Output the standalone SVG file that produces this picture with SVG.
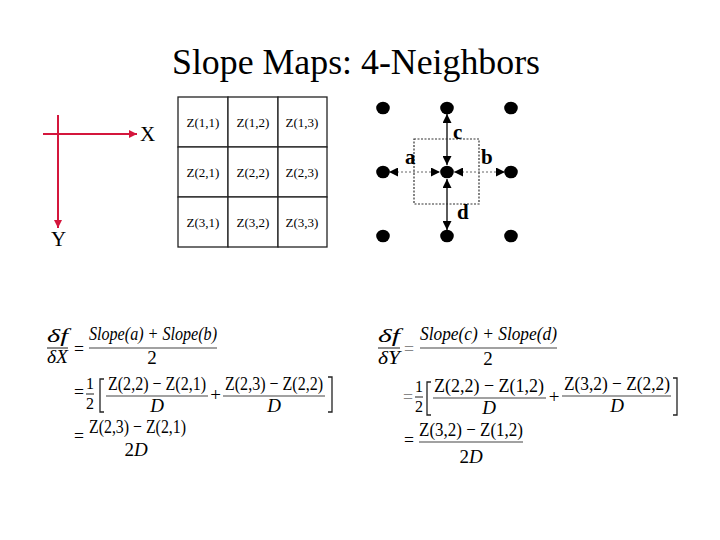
<svg xmlns="http://www.w3.org/2000/svg" width="720" height="540" viewBox="0 0 720 540">
<defs>
<style>
.serif{font-family:"Liberation Serif","Times New Roman",serif;fill:#000}
.title{font-size:36px}
.cell rect{fill:#fff;stroke:#222;stroke-width:1.3}
.cell text{font-size:13px;text-anchor:middle}
.axis{stroke:#d4163c;stroke-width:2;fill:none}
.axlbl{font-size:21px}
.dot{fill:#000}
.lbl{font-size:21px;font-weight:bold}
.solid{stroke:#333;stroke-width:1.6;fill:none}
.dotted{stroke:#666;stroke-width:1;stroke-dasharray:2,2;fill:none}
.box{stroke:#333;stroke-width:1.2;stroke-dasharray:2,1.5;fill:none}
.f{font-size:19px}
.it{font-style:italic}
.mid{text-anchor:middle}
.frac{stroke:#444;stroke-width:1.2}
.brk{stroke:#222;stroke-width:1.3;fill:none}
.gray{fill:#888}
.half{font-size:16px}
</style>
<marker id="redArrow" viewBox="0 0 8 8" refX="8" refY="4" markerWidth="8" markerHeight="8" markerUnits="userSpaceOnUse" orient="auto">
<path d="M0,0 L8,4 L0,8 z" fill="#d4163c"/>
</marker>
<marker id="tri" viewBox="0 0 9 9" refX="9" refY="4.5" markerWidth="9" markerHeight="9" markerUnits="userSpaceOnUse" orient="auto-start-reverse">
<path d="M0,0 L9,4.5 L0,9 z" fill="#000"/>
</marker>
</defs>
<rect width="720" height="540" fill="#fff"/>

<text class="serif title" x="172" y="74" textLength="368" lengthAdjust="spacingAndGlyphs">Slope Maps: 4-Neighbors</text>

<g id="axes">
<line class="axis" x1="43" y1="134" x2="137" y2="134" marker-end="url(#redArrow)"/>
<line class="axis" x1="58" y1="115" x2="58" y2="228" marker-end="url(#redArrow)"/>
<text class="serif axlbl" x="140" y="141">X</text>
<text class="serif axlbl" x="51" y="246">Y</text>
</g>

<g id="grid" class="serif">
<g id="z11" class="cell"><rect x="178" y="97" width="50" height="50"/><text x="203" y="127">Z(1,1)</text></g>
<g id="z12" class="cell"><rect x="228" y="97" width="50" height="50"/><text x="253" y="127">Z(1,2)</text></g>
<g id="z13" class="cell"><rect x="278" y="97" width="49" height="50"/><text x="302" y="127">Z(1,3)</text></g>
<g id="z21" class="cell"><rect x="178" y="147" width="50" height="50"/><text x="203" y="177">Z(2,1)</text></g>
<g id="z22" class="cell"><rect x="228" y="147" width="50" height="50"/><text x="253" y="177">Z(2,2)</text></g>
<g id="z23" class="cell"><rect x="278" y="147" width="49" height="50"/><text x="302" y="177">Z(2,3)</text></g>
<g id="z31" class="cell"><rect x="178" y="197" width="50" height="50"/><text x="203" y="227">Z(3,1)</text></g>
<g id="z32" class="cell"><rect x="228" y="197" width="50" height="50"/><text x="253" y="227">Z(3,2)</text></g>
<g id="z33" class="cell"><rect x="278" y="197" width="49" height="50"/><text x="302" y="227">Z(3,3)</text></g>
</g>

<g id="window">
<rect class="box" x="414" y="139" width="65" height="65"/>
</g>

<g id="connectors">
<line class="solid" x1="447" y1="114" x2="447" y2="165" marker-start="url(#tri)" marker-end="url(#tri)"/>
<line class="solid" x1="447" y1="179" x2="447" y2="230" marker-start="url(#tri)" marker-end="url(#tri)"/>
<line class="dotted" x1="389" y1="172" x2="440" y2="172" marker-start="url(#tri)" marker-end="url(#tri)"/>
<line class="dotted" x1="454" y1="172" x2="505" y2="172" marker-start="url(#tri)" marker-end="url(#tri)"/>
</g>

<g id="dots">
<g id="n11"><ellipse class="dot" cx="383" cy="108" rx="6.8" ry="6.3"/></g>
<g id="n12"><ellipse class="dot" cx="447" cy="108" rx="6.8" ry="6.3"/></g>
<g id="n13"><ellipse class="dot" cx="511" cy="108" rx="6.8" ry="6.3"/></g>
<g id="n21"><ellipse class="dot" cx="383" cy="172" rx="6.8" ry="6.3"/></g>
<g id="n22"><ellipse class="dot" cx="447" cy="172" rx="6.8" ry="6.3"/></g>
<g id="n23"><ellipse class="dot" cx="511" cy="172" rx="6.8" ry="6.3"/></g>
<g id="n31"><ellipse class="dot" cx="383" cy="236" rx="6.8" ry="6.3"/></g>
<g id="n32"><ellipse class="dot" cx="447" cy="236" rx="6.8" ry="6.3"/></g>
<g id="n33"><ellipse class="dot" cx="511" cy="236" rx="6.8" ry="6.3"/></g>
</g>

<g id="labels" class="serif lbl">
<text x="453" y="139">c</text>
<text x="405" y="164">a</text>
<text x="481" y="164">b</text>
<text x="457" y="219">d</text>
</g>

<g id="formulaX" class="serif f">
<text class="it" x="47" y="342" textLength="21" lengthAdjust="spacingAndGlyphs">δf</text>
<line class="frac" x1="47" y1="348" x2="68" y2="348"/>
<text class="it" x="47" y="363" textLength="21" lengthAdjust="spacingAndGlyphs">δX</text>
<text x="74" y="355" textLength="10" lengthAdjust="spacingAndGlyphs">=</text>
<text class="it" x="89" y="340" textLength="128" lengthAdjust="spacingAndGlyphs">Slope(a) + Slope(b)</text>
<line class="frac" x1="89" y1="348" x2="217" y2="348"/>
<text class="mid" x="152" y="364">2</text>

<text x="74" y="398" textLength="10" lengthAdjust="spacingAndGlyphs">=</text>
<text class="mid half" x="90" y="389">1</text>
<line class="frac" x1="86" y1="394" x2="94" y2="394"/>
<text class="mid half" x="90" y="409">2</text>
<path class="brk" d="M104,379 L100,379 L100,412 L104,412"/>
<text x="108" y="390" textLength="98" lengthAdjust="spacingAndGlyphs">Z(2,2) − Z(2,1)</text>
<line class="frac" x1="106" y1="396" x2="208" y2="396"/>
<text class="it mid" x="157" y="412">D</text>
<text class="mid" x="215.5" y="401">+</text>
<text x="225" y="390" textLength="98" lengthAdjust="spacingAndGlyphs">Z(2,3) − Z(2,2)</text>
<line class="frac" x1="223" y1="396" x2="325" y2="396"/>
<text class="it mid" x="274" y="412">D</text>
<path class="brk" d="M328,377 L332,377 L332,412 L328,412"/>

<text x="74" y="442" textLength="10" lengthAdjust="spacingAndGlyphs">=</text>
<text x="89" y="433" textLength="97" lengthAdjust="spacingAndGlyphs">Z(2,3) − Z(2,1)</text>
<text class="mid" x="136" y="456"><tspan>2</tspan><tspan class="it">D</tspan></text>
</g>

<g id="formulaY" class="serif f">
<text class="it" x="378" y="342" textLength="22" lengthAdjust="spacingAndGlyphs">δf</text>
<line class="frac" x1="378" y1="348" x2="400" y2="348"/>
<text class="it" x="378" y="364" textLength="22" lengthAdjust="spacingAndGlyphs">δY</text>
<text class="gray" x="404" y="355" textLength="10" lengthAdjust="spacingAndGlyphs">=</text>
<text class="it" x="420" y="340" textLength="137" lengthAdjust="spacingAndGlyphs">Slope(c) + Slope(d)</text>
<line class="frac" x1="420" y1="348" x2="557" y2="348"/>
<text class="mid" x="488" y="365">2</text>

<text class="gray" x="403" y="403" textLength="10" lengthAdjust="spacingAndGlyphs">=</text>
<text class="mid half" x="419" y="392">1</text>
<line class="frac" x1="415" y1="397" x2="423" y2="397"/>
<text class="mid half" x="419" y="412">2</text>
<path class="brk" d="M431,382 L427,382 L427,415 L431,415"/>
<text x="434" y="392" textLength="110" lengthAdjust="spacingAndGlyphs">Z(2,2) − Z(1,2)</text>
<line class="frac" x1="433" y1="398" x2="546" y2="398"/>
<text class="it mid" x="489" y="414">D</text>
<text class="mid" x="554" y="403">+</text>
<text x="564" y="390" textLength="106" lengthAdjust="spacingAndGlyphs">Z(3,2) − Z(2,2)</text>
<line class="frac" x1="562" y1="396" x2="671" y2="396"/>
<text class="it mid" x="617" y="412">D</text>
<path class="brk" d="M673,378 L677,378 L677,415 L673,415"/>

<text x="404" y="446" textLength="10" lengthAdjust="spacingAndGlyphs">=</text>
<text x="419" y="436" textLength="104" lengthAdjust="spacingAndGlyphs">Z(3,2) − Z(1,2)</text>
<line class="frac" x1="419" y1="442" x2="523" y2="442"/>
<text class="mid" x="471" y="463"><tspan>2</tspan><tspan class="it">D</tspan></text>
</g>
</svg>
